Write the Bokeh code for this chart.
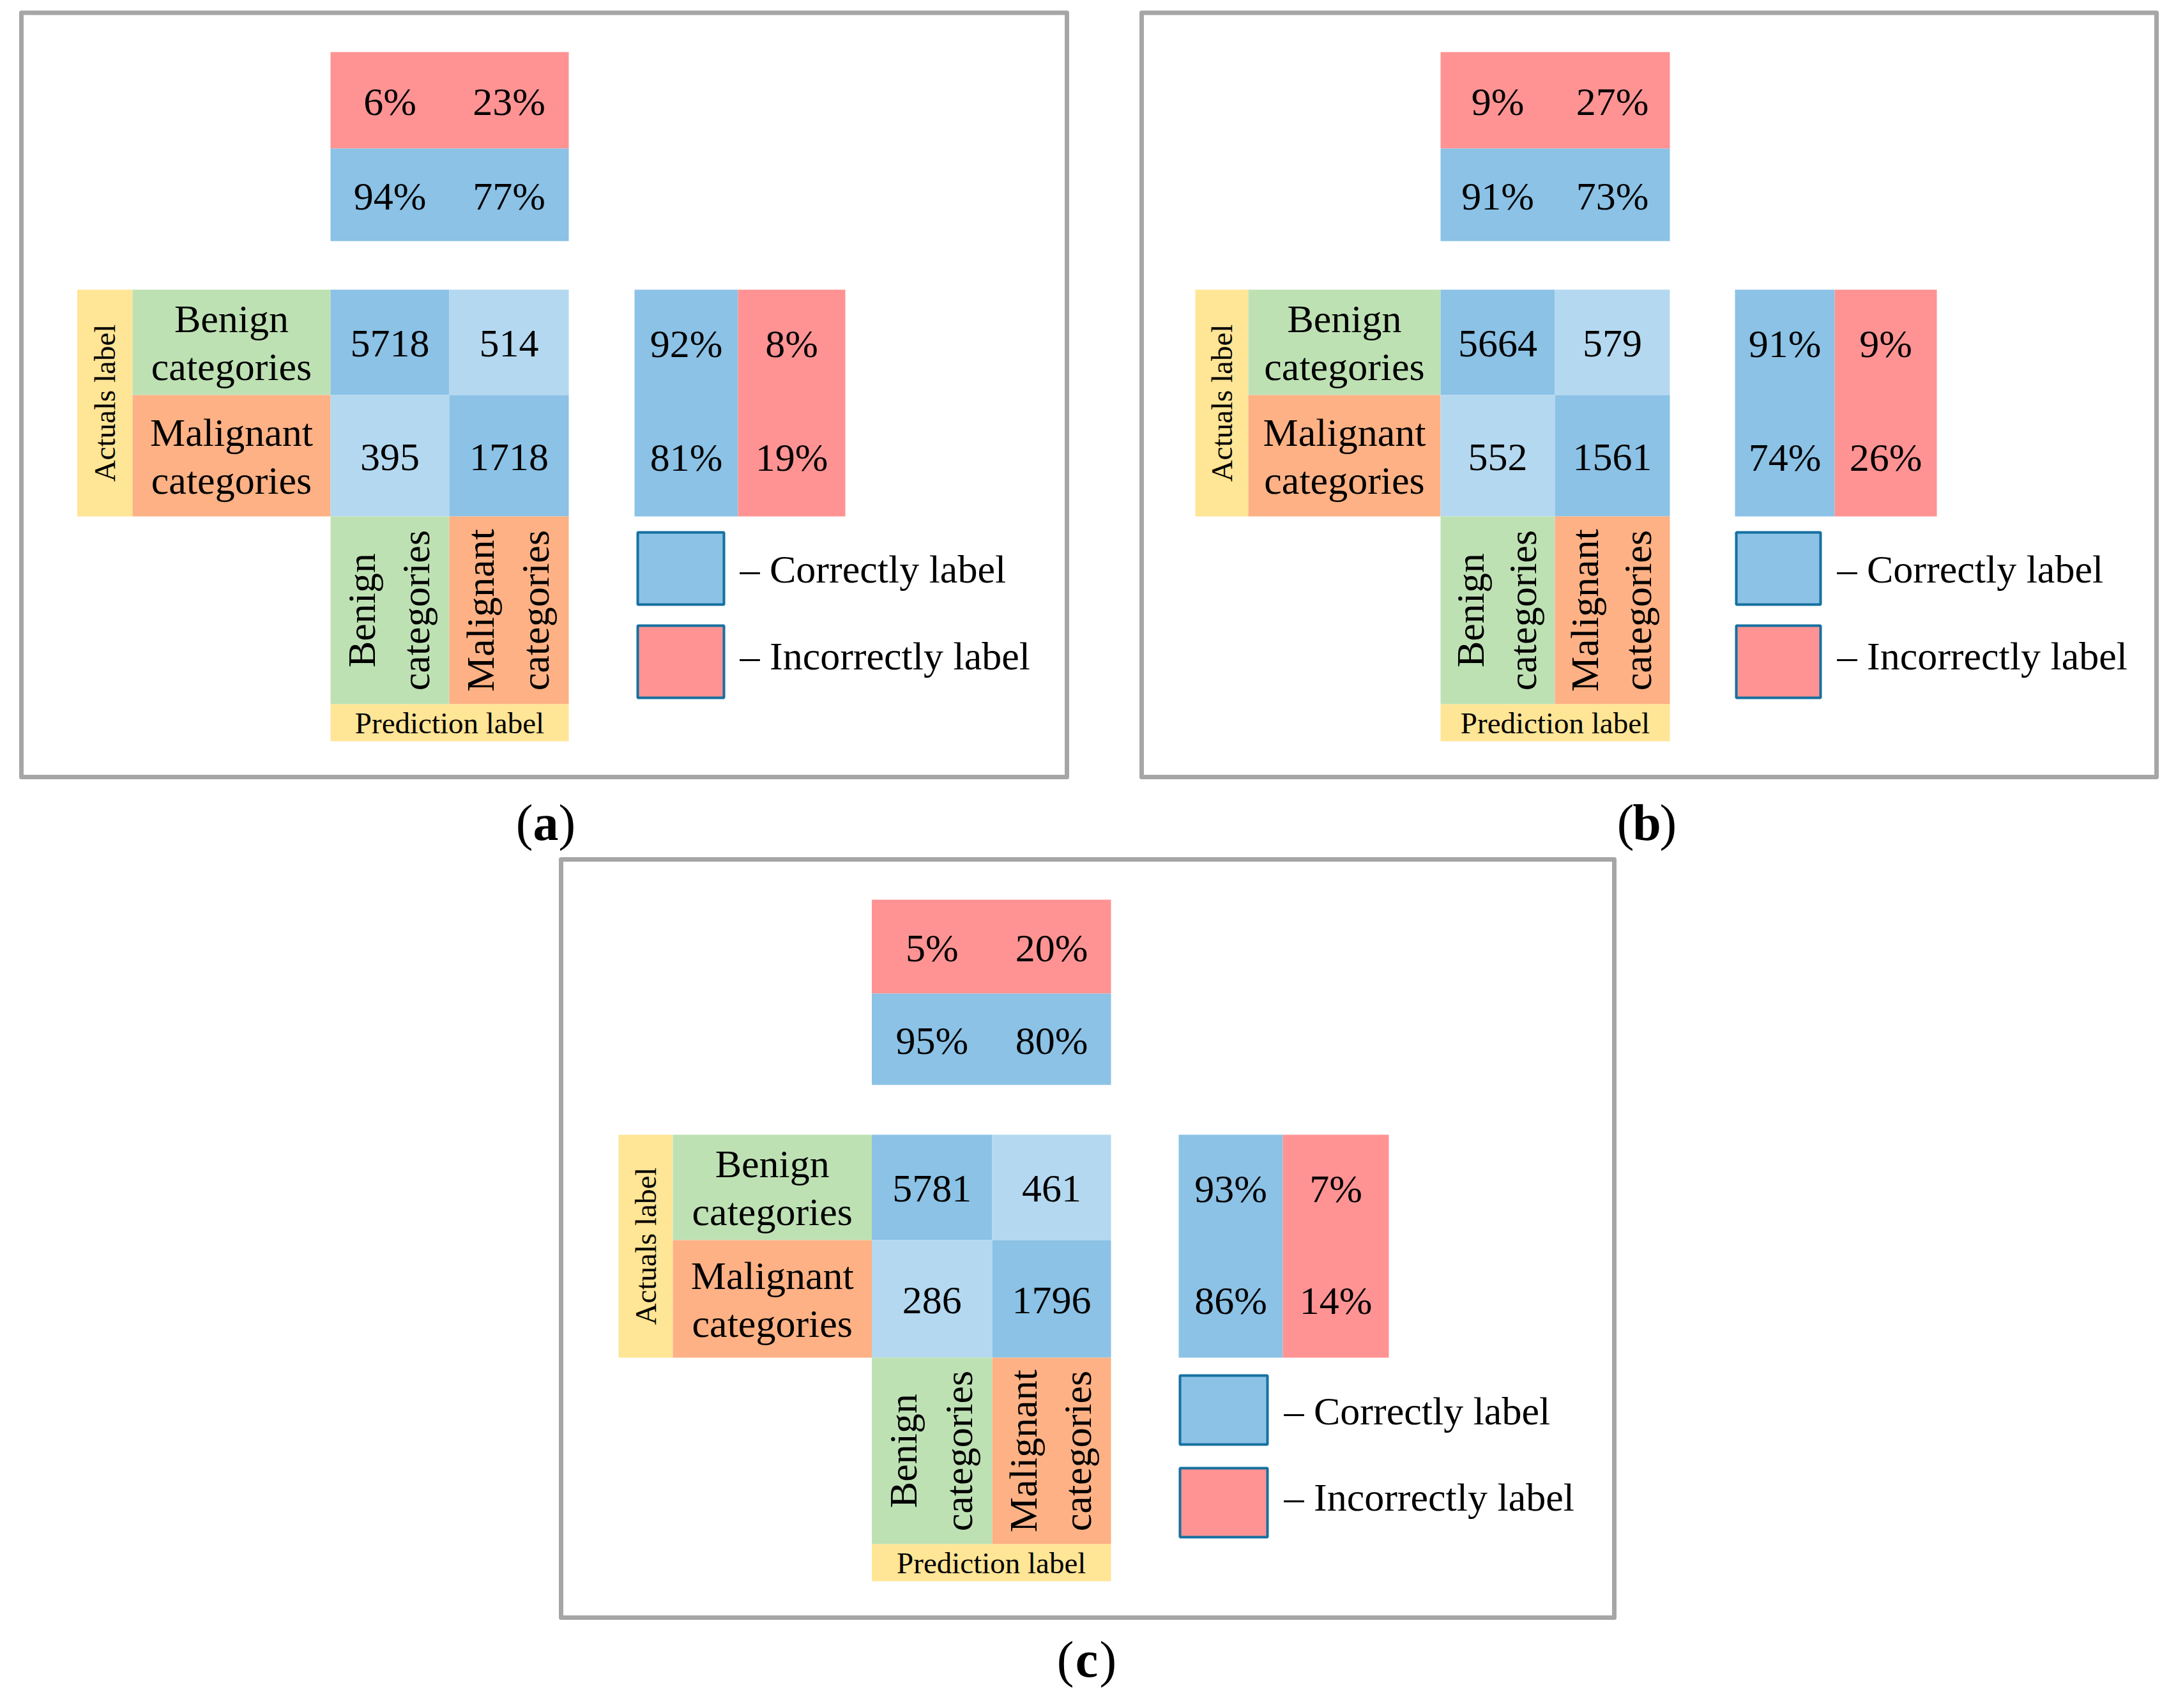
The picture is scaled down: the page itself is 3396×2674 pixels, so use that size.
import math
from bokeh.plotting import figure
from bokeh.models import Range1d, ColumnDataSource
from bokeh.embed import file_html
from bokeh.resources import INLINE
from bokeh.core.properties import value

# ---------------- data ----------------
panel_tags = ["a", "b", "c"]
class_names = ["Benign", "Malignant"]
class_word = "categories"
actual_title = "Actuals label"
pred_title = "Prediction label"
legend_labels = ["\u2013 Correctly label", "\u2013 Incorrectly label"]

counts_a = [[5718, 514], [395, 1718]]
counts_b = [[5664, 579], [552, 1561]]
counts_c = [[5781, 461], [286, 1796]]

col_correct_a = [94, 77]
col_incorrect_a = [6, 23]
row_correct_a = [92, 81]
row_incorrect_a = [8, 19]

col_correct_b = [91, 73]
col_incorrect_b = [9, 27]
row_correct_b = [91, 74]
row_incorrect_b = [9, 26]

col_correct_c = [95, 80]
col_incorrect_c = [5, 20]
row_correct_c = [93, 86]
row_incorrect_c = [7, 14]

# ---------------- styles ----------------
FONT = "Liberation Serif"
RED = "#FF9393"
BLUE = "#8BC2E6"
LIGHT = "#B4D8EF"
GREEN = "#BEE1B4"
ORANGE = "#FDB184"
YELLOW = "#FFE596"
GRAY = "#A6A6A6"
LEG_EDGE = "#1570A0"
FS_MAIN = 62
FS_SMALL = 47
FS_LEG = 62
FS_CAP = 80

# ---------------- layout (page pixel frame) ----------------
layouts = {
    "a": dict(border=(33, 19.5, 1670, 1216), xa=(120.5, 207), xm=(517, 703, 890),
              yt=(81, 232, 377), ym=(453, 618, 808), yc=1102, yp=1160,
              xr=(993, 1155, 1323), lx=(998, 1133), ly=((833, 946), (979, 1092)),
              ltx=1158, cap=(854, 1287)),
    "b": dict(border=(1787, 19.5, 3376, 1216), xa=(1871, 1954), xm=(2255, 2434, 2614),
              yt=(81, 232, 377), ym=(453, 618, 808), yc=1102, yp=1160,
              xr=(2716, 2872, 3032), lx=(2718, 2850), ly=((833, 946), (979, 1092)),
              ltx=2876, cap=(2578, 1287)),
    "c": dict(border=(878, 1345, 2527, 2532), xa=(968, 1053), xm=(1364.5, 1553, 1739),
              yt=(1408, 1555, 1698), ym=(1776, 1941, 2125), yc=2417, yp=2475,
              xr=(1845, 2008, 2174), lx=(1847, 1984), ly=((2153, 2261), (2298, 2406)),
              ltx=2010, cap=(1701, 2597)),
}

cells = dict(left=[], right=[], top=[], bottom=[], color=[])
main_txt = dict(x=[], y=[], text=[])
rot_txt = dict(x=[], y=[], text=[])
small_h = dict(x=[], y=[], text=[])
small_v = dict(x=[], y=[], text=[])
leg_sq = dict(left=[], right=[], top=[], bottom=[], color=[])
leg_txt = dict(x=[], y=[], text=[])
borders = dict(left=[], right=[], top=[], bottom=[])
cap_l = dict(x=[], y=[], text=[])
cap_m = dict(x=[], y=[], text=[])
cap_r = dict(x=[], y=[], text=[])


def cell(l, r, t, b, c):
    cells["left"].append(l); cells["right"].append(r)
    cells["top"].append(t); cells["bottom"].append(b); cells["color"].append(c)


def put(d, x, y, s):
    d["x"].append(x); d["y"].append(y); d["text"].append(s)


def panel(tag, counts, col_ok, col_bad, row_ok, row_bad):
    L = layouts[tag]
    xm, yt, ym, xr = L["xm"], L["yt"], L["ym"], L["xr"]
    xa0, xa1 = L["xa"]
    dy = 2
    # top block: column-wise percentages (one band per row, as in the reference)
    cell(xm[0], xm[2], yt[0], yt[1], RED)
    cell(xm[0], xm[2], yt[1], yt[2], BLUE)
    for j in range(2):
        cx = (xm[j] + xm[j + 1]) / 2
        put(main_txt, cx, (yt[0] + yt[1]) / 2 + dy, f"{col_bad[j]}%")
        put(main_txt, cx, (yt[1] + yt[2]) / 2 + dy, f"{col_ok[j]}%")
    # actuals label column
    cell(xa0, xa1, ym[0], ym[2], YELLOW)
    put(small_v, (xa0 + xa1) / 2, (ym[0] + ym[2]) / 2, actual_title)
    # row labels
    for i in range(2):
        cyr = (ym[i] + ym[i + 1]) / 2
        cell(xa1, xm[0], ym[i], ym[i + 1], GREEN if i == 0 else ORANGE)
        cx = (xa1 + xm[0]) / 2
        put(main_txt, cx, cyr - 37, class_names[i])
        put(main_txt, cx, cyr + 38, class_word)
    # matrix
    for i in range(2):
        for j in range(2):
            cell(xm[j], xm[j + 1], ym[i], ym[i + 1], BLUE if i == j else LIGHT)
            put(main_txt, (xm[j] + xm[j + 1]) / 2, (ym[i] + ym[i + 1]) / 2 + dy,
                str(counts[i][j]))
    # column labels (rotated)
    for j in range(2):
        cell(xm[j], xm[j + 1], ym[2], L["yc"], GREEN if j == 0 else ORANGE)
        w = xm[j + 1] - xm[j]
        cyc = (ym[2] + L["yc"]) / 2
        put(rot_txt, xm[j] + 0.26 * w, cyc, class_names[j])
        put(rot_txt, xm[j] + 0.72 * w, cyc, class_word)
    # prediction label
    cell(xm[0], xm[2], L["yc"], L["yp"], YELLOW)
    put(small_h, (xm[0] + xm[2]) / 2, (L["yc"] + L["yp"]) / 2, pred_title)
    # right block: row-wise percentages
    cell(xr[0], xr[1], ym[0], ym[2], BLUE)
    cell(xr[1], xr[2], ym[0], ym[2], RED)
    for i in range(2):
        cyr = (ym[i] + ym[i + 1]) / 2 + dy
        put(main_txt, (xr[0] + xr[1]) / 2, cyr, f"{row_ok[i]}%")
        put(main_txt, (xr[1] + xr[2]) / 2, cyr, f"{row_bad[i]}%")
    # legend
    for k, (c, lab) in enumerate(zip([BLUE, RED], legend_labels)):
        t, b = L["ly"][k]
        leg_sq["left"].append(L["lx"][0]); leg_sq["right"].append(L["lx"][1])
        leg_sq["top"].append(t); leg_sq["bottom"].append(b); leg_sq["color"].append(c)
        put(leg_txt, L["ltx"], (t + b) / 2 + 1 - 10 * k, lab)
    # border
    bl, bt, br, bb = L["border"]
    borders["left"].append(bl); borders["right"].append(br)
    borders["top"].append(bt); borders["bottom"].append(bb)
    # caption
    cx, cy = L["cap"]
    put(cap_l, cx - 0.25 * FS_CAP, cy, "(")
    put(cap_m, cx, cy, tag)
    put(cap_r, cx + 0.25 * FS_CAP, cy, ")")


panel("a", counts_a, col_correct_a, col_incorrect_a, row_correct_a, row_incorrect_a)
panel("b", counts_b, col_correct_b, col_incorrect_b, row_correct_b, row_incorrect_b)
panel("c", counts_c, col_correct_c, col_incorrect_c, row_correct_c, row_incorrect_c)

# ---------------- figure ----------------
W, H = 3380, 2650
p = figure(width=W, height=H, x_range=Range1d(0, W), y_range=Range1d(H, 0),
           output_backend="svg", toolbar_location=None, min_border=0,
           x_axis_location=None, y_axis_location=None)
p.grid.visible = False
p.outline_line_color = None
p.background_fill_color = "white"
p.border_fill_color = "white"

p.quad(left="left", right="right", top="top", bottom="bottom", fill_color="color",
       line_color=None, source=ColumnDataSource(cells))
p.quad(left="left", right="right", top="top", bottom="bottom", fill_color="color",
       line_color=LEG_EDGE, line_width=4, source=ColumnDataSource(leg_sq))
p.quad(left="left", right="right", top="top", bottom="bottom", fill_color=None,
       line_color=GRAY, line_width=7, line_join="round", source=ColumnDataSource(borders))

common = dict(text_font=value(FONT), text_color="black", text_baseline="middle")
p.text(x="x", y="y", text="text", source=ColumnDataSource(main_txt),
       text_font_size=f"{FS_MAIN}px", text_align="center", **common)
p.text(x="x", y="y", text="text", source=ColumnDataSource(rot_txt), angle=math.pi / 2,
       text_font_size=f"{FS_MAIN}px", text_align="center", **common)
p.text(x="x", y="y", text="text", source=ColumnDataSource(small_h),
       text_font_size=f"{FS_SMALL}px", text_align="center", **common)
p.text(x="x", y="y", text="text", source=ColumnDataSource(small_v), angle=math.pi / 2,
       text_font_size=f"{FS_SMALL}px", text_align="center", **common)
p.text(x="x", y="y", text="text", source=ColumnDataSource(leg_txt),
       text_font_size=f"{FS_LEG}px", text_align="left", **common)
p.text(x="x", y="y", text="text", source=ColumnDataSource(cap_l),
       text_font_size=f"{FS_CAP}px", text_align="right", **common)
p.text(x="x", y="y", text="text", source=ColumnDataSource(cap_m),
       text_font_size=f"{FS_CAP}px", text_align="center", text_font_style="bold", **common)
p.text(x="x", y="y", text="text", source=ColumnDataSource(cap_r),
       text_font_size=f"{FS_CAP}px", text_align="left", **common)

open("out.html", "w").write(file_html(p, INLINE))
